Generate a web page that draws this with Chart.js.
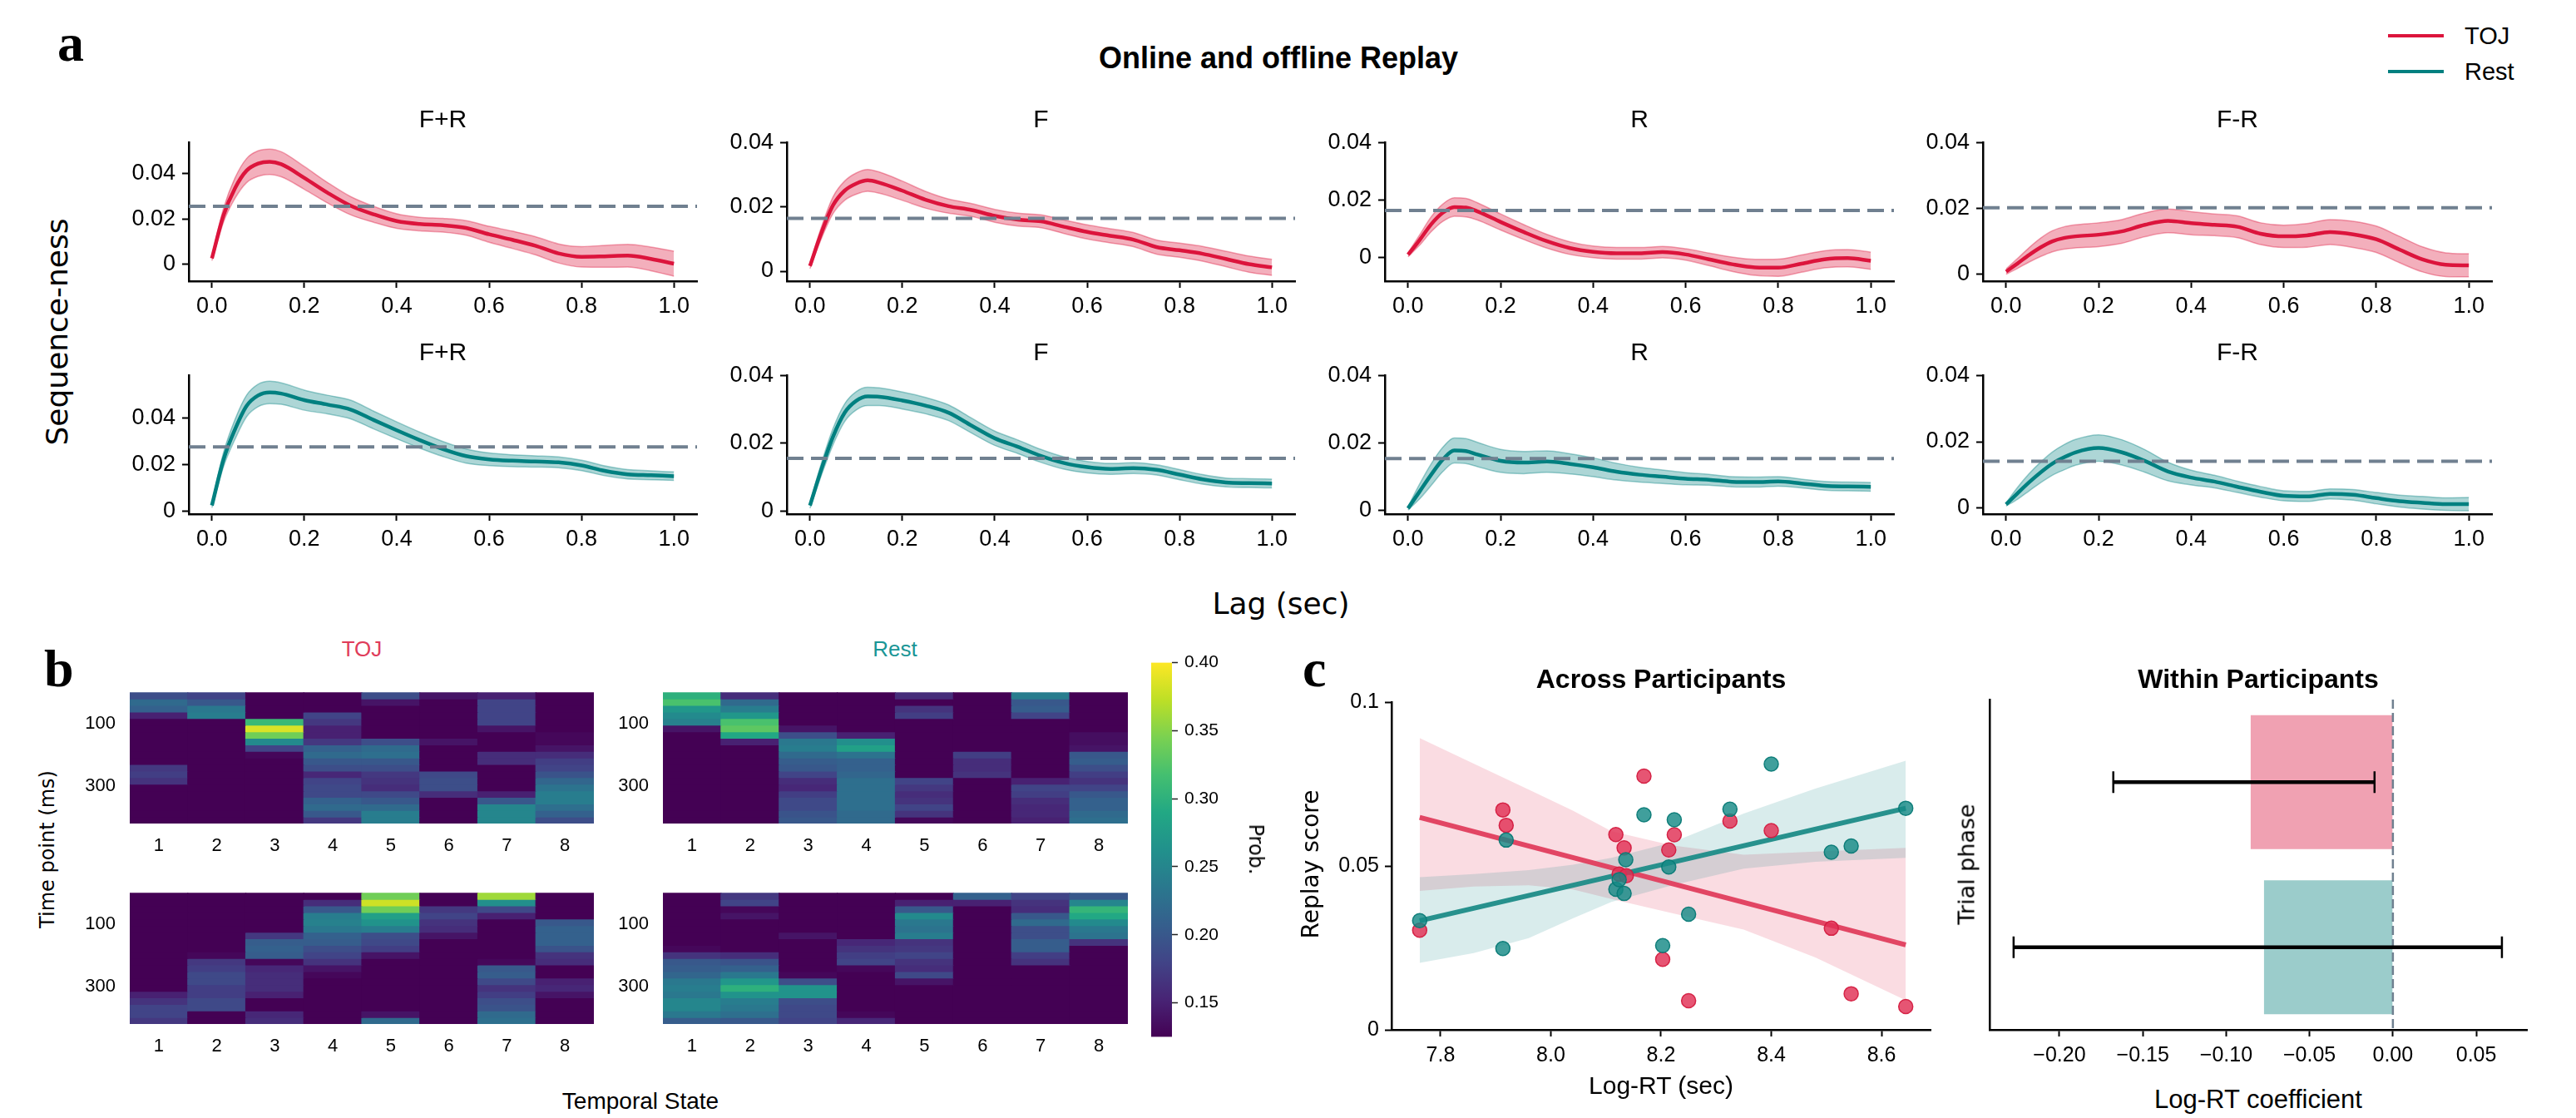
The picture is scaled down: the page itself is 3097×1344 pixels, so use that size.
<!DOCTYPE html>
<html><head><meta charset="utf-8">
<script src="https://cdn.jsdelivr.net/npm/chart.js@4.4.1/dist/chart.umd.min.js"></script>
<style>
html,body{margin:0;padding:0;background:#fff;}
#root{position:relative;width:3097px;height:1344px;overflow:hidden;background:#fff;}
canvas{position:absolute;}
.t{position:absolute;white-space:nowrap;line-height:1;color:#000;}
</style></head><body><div id="root"></div>
<script>
// ---------------- DATA ----------------
const lags = [0,0.025,0.05,0.075,0.1,0.125,0.15,0.2,0.25,0.3,0.35,0.4,0.45,0.5,0.55,0.6,0.65,0.7,0.75,0.8,0.85,0.9,0.95,1.0];
const lagTicks = [0,0.2,0.4,0.6,0.8,1.0];
const lagTickLabels = ['0.0','0.2','0.4','0.6','0.8','1.0'];
const seqTicks = [0,0.02,0.04];
const seqTickLabels = ['0','0.02','0.04'];
const panelNames = ['F+R','F','R','F-R'];

const tojFR = [0.0026,0.0215,0.0335,0.0412,0.0443,0.0451,0.0440,0.0380,0.0315,0.0258,0.0220,0.0190,0.0177,0.0172,0.0160,0.0132,0.0108,0.0082,0.0048,0.0033,0.0035,0.0038,0.0024,0.0003];
const tojFRsem = [0.0010,0.0030,0.0045,0.0053,0.0056,0.0056,0.0055,0.0050,0.0045,0.0040,0.0035,0.0032,0.0030,0.0030,0.0032,0.0035,0.0038,0.0040,0.0042,0.0045,0.0048,0.0050,0.0052,0.0055];
const tojF = [0.0016,0.0120,0.0205,0.0250,0.0272,0.0282,0.0275,0.0250,0.0222,0.0202,0.0190,0.0172,0.0160,0.0155,0.0138,0.0122,0.0110,0.0098,0.0075,0.0065,0.0054,0.0038,0.0022,0.0012];
const tojFsem = [0.0008,0.0018,0.0026,0.0030,0.0033,0.0034,0.0033,0.0030,0.0026,0.0022,0.0020,0.0020,0.0020,0.0020,0.0021,0.0022,0.0022,0.0022,0.0022,0.0022,0.0023,0.0024,0.0025,0.0025];
const tojR = [0.0009,0.0060,0.0115,0.0155,0.0175,0.0173,0.0160,0.0123,0.0088,0.0056,0.0032,0.0019,0.0014,0.0014,0.0018,0.0010,-0.0007,-0.0024,-0.0035,-0.0036,-0.0022,-0.0007,-0.0003,-0.0012];
const tojRsem = [0.0007,0.0018,0.0026,0.0030,0.0032,0.0032,0.0030,0.0028,0.0026,0.0024,0.0022,0.0020,0.0020,0.0020,0.0020,0.0020,0.0022,0.0025,0.0028,0.0030,0.0030,0.0030,0.0030,0.0030];
const tojFmR = [0.0008,0.0033,0.0059,0.0082,0.0100,0.0110,0.0115,0.0120,0.0130,0.0150,0.0162,0.0155,0.0150,0.0144,0.0123,0.0115,0.0118,0.0128,0.0121,0.0106,0.0075,0.0045,0.0029,0.0027];
const tojFmRsem = [0.0008,0.0015,0.0022,0.0028,0.0032,0.0034,0.0035,0.0036,0.0036,0.0036,0.0036,0.0035,0.0033,0.0033,0.0033,0.0034,0.0036,0.0038,0.0040,0.0040,0.0040,0.0038,0.0036,0.0035];

const restFR = [0.0025,0.0220,0.0350,0.0450,0.0495,0.0508,0.0503,0.0475,0.0456,0.0435,0.0390,0.0346,0.0304,0.0266,0.0236,0.0222,0.0216,0.0213,0.0209,0.0196,0.0173,0.0158,0.0154,0.0150];
const restFRsem = [0.0010,0.0030,0.0042,0.0046,0.0048,0.0048,0.0046,0.0043,0.0040,0.0040,0.0038,0.0036,0.0034,0.0032,0.0030,0.0027,0.0025,0.0024,0.0023,0.0022,0.0021,0.0020,0.0019,0.0018];
const restF = [0.0017,0.0125,0.0220,0.0290,0.0325,0.0338,0.0337,0.0326,0.0311,0.0290,0.0252,0.0215,0.0190,0.0163,0.0142,0.0130,0.0125,0.0127,0.0122,0.0108,0.0094,0.0085,0.0083,0.0082];
const restFsem = [0.0008,0.0018,0.0024,0.0026,0.0027,0.0027,0.0026,0.0025,0.0024,0.0023,0.0022,0.0021,0.0020,0.0019,0.0018,0.0017,0.0016,0.0016,0.0015,0.0015,0.0014,0.0013,0.0013,0.0013];
const restR = [0.0005,0.0055,0.0105,0.0150,0.0177,0.0175,0.0165,0.0146,0.0141,0.0144,0.0137,0.0127,0.0114,0.0105,0.0099,0.0093,0.0090,0.0084,0.0083,0.0085,0.0079,0.0072,0.0070,0.0069];
const restRsem = [0.0005,0.0022,0.0032,0.0036,0.0037,0.0037,0.0036,0.0034,0.0033,0.0032,0.0030,0.0028,0.0025,0.0022,0.0020,0.0018,0.0016,0.0015,0.0015,0.0014,0.0013,0.0013,0.0013,0.0013];
const restFmR = [0.0011,0.0045,0.0078,0.0108,0.0134,0.0153,0.0168,0.0181,0.0168,0.0142,0.0110,0.0092,0.0080,0.0064,0.0049,0.0037,0.0035,0.0043,0.0040,0.0030,0.0021,0.0016,0.0012,0.0012];
const restFmRsem = [0.0005,0.0018,0.0026,0.0031,0.0035,0.0038,0.0039,0.0040,0.0038,0.0034,0.0028,0.0022,0.0019,0.0017,0.0016,0.0015,0.0015,0.0015,0.0016,0.0017,0.0018,0.0019,0.0019,0.0020];

const thresholdTOJ = [0.0255,0.0164,0.0163,0.0202];
const thresholdRest = [0.0275,0.0156,0.0153,0.0141];

// heatmaps: [state][time bin]
const stateLabels = ['1','2','3','4','5','6','7','8'];
const heatTimeEdges = [0,21,42,63,84,105,126,147,168,189,210,231,252,273,294,315,336,357,378,399,420];
const timeTicks = [100,300];
const heatTOJ_A = [
 [0.19,0.22,0.21,0.15,0.12,0.12,0.12,0.12,0.12,0.12,0.12,0.17,0.175,0.165,0.12,0.12,0.12,0.12,0.12,0.12],
 [0.18,0.20,0.235,0.24,0.125,0.12,0.12,0.12,0.12,0.12,0.12,0.12,0.12,0.12,0.12,0.12,0.12,0.12,0.12,0.12],
 [0.12,0.12,0.12,0.12,0.31,0.385,0.34,0.255,0.18,0.13,0.12,0.12,0.12,0.12,0.12,0.12,0.12,0.12,0.12,0.12],
 [0.12,0.12,0.12,0.18,0.17,0.15,0.15,0.17,0.21,0.22,0.20,0.19,0.155,0.18,0.185,0.185,0.21,0.22,0.20,0.17],
 [0.19,0.14,0.12,0.12,0.12,0.12,0.12,0.19,0.22,0.225,0.20,0.19,0.17,0.165,0.16,0.185,0.20,0.22,0.24,0.24],
 [0.14,0.12,0.12,0.12,0.12,0.12,0.12,0.14,0.12,0.12,0.12,0.12,0.185,0.19,0.19,0.16,0.12,0.12,0.12,0.12],
 [0.15,0.18,0.18,0.18,0.18,0.14,0.12,0.12,0.12,0.16,0.16,0.12,0.12,0.12,0.12,0.15,0.20,0.25,0.25,0.25],
 [0.12,0.12,0.12,0.12,0.12,0.12,0.13,0.13,0.14,0.16,0.175,0.18,0.195,0.215,0.23,0.24,0.24,0.225,0.21,0.19]
];
const heatRest_A = [
 [0.30,0.32,0.27,0.255,0.245,0.14,0.12,0.12,0.12,0.12,0.12,0.12,0.12,0.12,0.12,0.12,0.12,0.12,0.12,0.12],
 [0.16,0.22,0.24,0.27,0.32,0.33,0.29,0.15,0.12,0.12,0.12,0.12,0.12,0.12,0.12,0.12,0.12,0.12,0.12,0.12],
 [0.12,0.12,0.12,0.12,0.12,0.14,0.19,0.235,0.24,0.22,0.205,0.20,0.18,0.16,0.155,0.175,0.185,0.185,0.195,0.20],
 [0.12,0.12,0.12,0.12,0.12,0.12,0.15,0.26,0.28,0.23,0.21,0.21,0.215,0.225,0.225,0.225,0.225,0.225,0.22,0.22],
 [0.16,0.12,0.165,0.175,0.12,0.12,0.12,0.12,0.12,0.12,0.12,0.12,0.12,0.18,0.17,0.16,0.165,0.18,0.165,0.13],
 [0.12,0.12,0.12,0.12,0.12,0.12,0.12,0.12,0.12,0.175,0.16,0.16,0.165,0.12,0.12,0.12,0.12,0.12,0.12,0.12],
 [0.24,0.20,0.205,0.18,0.12,0.12,0.12,0.12,0.12,0.12,0.12,0.12,0.12,0.15,0.18,0.175,0.16,0.155,0.155,0.15],
 [0.12,0.12,0.12,0.12,0.12,0.12,0.135,0.135,0.14,0.20,0.205,0.19,0.175,0.165,0.18,0.20,0.21,0.21,0.22,0.225]
];
const heatTOJ_B = [
 [0.12,0.12,0.12,0.12,0.12,0.12,0.12,0.12,0.12,0.12,0.12,0.12,0.12,0.12,0.12,0.15,0.165,0.18,0.18,0.17],
 [0.12,0.12,0.12,0.12,0.12,0.12,0.12,0.12,0.12,0.13,0.17,0.175,0.185,0.185,0.175,0.175,0.185,0.185,0.12,0.12],
 [0.12,0.12,0.12,0.12,0.12,0.12,0.17,0.205,0.21,0.205,0.13,0.155,0.16,0.16,0.16,0.15,0.12,0.12,0.155,0.16],
 [0.12,0.16,0.20,0.24,0.245,0.235,0.21,0.205,0.19,0.18,0.165,0.14,0.13,0.12,0.12,0.12,0.12,0.12,0.12,0.12],
 [0.34,0.38,0.34,0.28,0.265,0.24,0.19,0.185,0.175,0.14,0.12,0.12,0.12,0.12,0.12,0.12,0.12,0.12,0.14,0.22],
 [0.12,0.12,0.17,0.18,0.165,0.16,0.14,0.12,0.12,0.12,0.12,0.12,0.12,0.12,0.12,0.12,0.12,0.12,0.12,0.12],
 [0.36,0.26,0.185,0.15,0.12,0.12,0.12,0.12,0.12,0.12,0.13,0.20,0.205,0.185,0.165,0.175,0.19,0.195,0.22,0.225],
 [0.12,0.12,0.12,0.12,0.20,0.21,0.21,0.21,0.195,0.165,0.16,0.12,0.12,0.15,0.155,0.14,0.12,0.12,0.12,0.12]
];
const heatRest_B = [
 [0.12,0.12,0.12,0.12,0.12,0.12,0.12,0.12,0.13,0.165,0.20,0.205,0.215,0.235,0.24,0.235,0.25,0.25,0.235,0.205],
 [0.17,0.18,0.13,0.14,0.12,0.12,0.12,0.12,0.12,0.16,0.195,0.21,0.235,0.27,0.30,0.265,0.24,0.235,0.225,0.20],
 [0.12,0.12,0.12,0.12,0.12,0.12,0.14,0.12,0.12,0.12,0.12,0.12,0.13,0.19,0.265,0.265,0.19,0.185,0.185,0.18],
 [0.12,0.12,0.12,0.12,0.12,0.12,0.12,0.155,0.165,0.175,0.18,0.13,0.12,0.12,0.12,0.12,0.12,0.12,0.13,0.155],
 [0.12,0.15,0.20,0.255,0.235,0.23,0.24,0.165,0.17,0.18,0.165,0.16,0.185,0.14,0.12,0.12,0.12,0.12,0.12,0.12],
 [0.21,0.15,0.12,0.12,0.12,0.12,0.12,0.12,0.12,0.12,0.12,0.12,0.12,0.12,0.12,0.12,0.12,0.12,0.12,0.12],
 [0.18,0.165,0.16,0.20,0.22,0.19,0.19,0.205,0.205,0.175,0.165,0.12,0.12,0.12,0.12,0.12,0.12,0.12,0.12,0.12],
 [0.20,0.25,0.305,0.29,0.255,0.235,0.23,0.165,0.12,0.12,0.12,0.12,0.12,0.12,0.12,0.12,0.12,0.12,0.12,0.12]
];
const cbarRange = [0.125, 0.40];
const cbarTicks = [0.15,0.20,0.25,0.30,0.35,0.40];
const cbarTickLabels = ['0.15','0.20','0.25','0.30','0.35','0.40'];

// across participants
const acrossRT_TOJ = [7.762,7.913,7.919,8.118,8.133,8.169,8.224,8.214,8.124,8.137,8.325,8.400,8.203,8.250,8.509,8.545,8.644];
const acrossScore_TOJ = [0.0304,0.0671,0.0624,0.0596,0.0555,0.0774,0.0595,0.0549,0.0475,0.0470,0.0637,0.0608,0.0215,0.0089,0.0310,0.0110,0.0071];
const acrossRT_Rest = [7.762,7.913,7.919,8.169,8.224,8.325,8.400,8.136,8.118,8.133,8.124,8.214,8.250,8.203,8.509,8.545,8.644];
const acrossScore_Rest = [0.0333,0.0248,0.0579,0.0656,0.0641,0.0673,0.0811,0.0519,0.0429,0.0416,0.0458,0.0497,0.0353,0.0257,0.0542,0.0561,0.0676];
const fitRT = [7.762, 8.644];
const fitTOJ = [0.0648, 0.0259];
const fitRest = [0.0333, 0.0676];
const bandRT = [7.762,7.86,7.96,8.04,8.11,8.22,8.35,8.48,8.644];
const bandTOJ_hi = [0.0890,0.0812,0.0733,0.0669,0.0606,0.0563,0.0534,0.0544,0.0555];
const bandTOJ_lo = [0.0424,0.0437,0.0441,0.0428,0.0399,0.0356,0.0306,0.0221,0.0090];
const bandRest_hi = [0.0466,0.0475,0.0487,0.0504,0.0525,0.0572,0.0660,0.0736,0.0821];
const bandRest_lo = [0.0204,0.0234,0.0280,0.0340,0.0390,0.0441,0.0492,0.0513,0.0525];
const rtTicks = [7.8,8.0,8.2,8.4,8.6];
const rtTickLabels = ['7.8','8.0','8.2','8.4','8.6'];
const scoreTicks = [0,0.05,0.1];
const scoreTickLabels = ['0','0.05','0.1'];

// within participants
const phases = ['TOJ','Rest'];
const withinCoef = [-0.0853,-0.0773];
const withinLo = [-0.1677,-0.2275];
const withinHi = [-0.0110,0.0654];
const coefTicks = [-0.20,-0.15,-0.10,-0.05,0,0.05];
const coefTickLabels = ['\u22120.20','\u22120.15','\u22120.10','\u22120.05','0.00','0.05'];

// ---------------- STYLE / HELPERS ----------------
const C_TOJ = '#dc143c', C_REST = '#008080', C_THR = '#708090';
const viridisStops = ['#440154','#482475','#414487','#355f8d','#2a788e','#21918c','#22a884','#44bf70','#7ad151','#bddf26','#fde725'];
function hex2rgb(h){return [parseInt(h.slice(1,3),16),parseInt(h.slice(3,5),16),parseInt(h.slice(5,7),16)];}
const vRGB = viridisStops.map(hex2rgb);
function viridis(v){
  let t = (v - cbarRange[0])/(cbarRange[1]-cbarRange[0]);
  t = Math.max(0, Math.min(1, t));
  const p = t*(vRGB.length-1); const i = Math.min(Math.floor(p), vRGB.length-2); const f = p - i;
  const a = vRGB[i], b = vRGB[i+1];
  return 'rgb(' + [0,1,2].map(k=>Math.round(a[k]+(b[k]-a[k])*f)).join(',') + ')';
}
Chart.defaults.font.family = 'Liberation Sans';
Chart.defaults.color = '#000';
const root = document.getElementById('root');
function txt(s, x, y, o){
  const d = document.createElement('div'); d.className='t'; d.textContent = s;
  d.style.fontFamily = o.family || 'Liberation Sans';
  d.style.fontSize = o.size + 'px';
  d.style.fontWeight = o.weight || 'normal';
  d.style.color = o.color || '#000';
  d.style.left = x + 'px'; d.style.top = y + 'px';
  if (o.tl) { root.appendChild(d); return; }
  const ax = o.anchor === 'left' ? '0' : '-50%';
  d.style.transform = 'translate(' + ax + ',-50%)' + (o.rot ? ' rotate(' + o.rot + 'deg)' : '');
  root.appendChild(d);
}
function box(x,y,w,h,color){const d=document.createElement('div');d.style.cssText='position:absolute;left:'+x+'px;top:'+y+'px;width:'+w+'px;height:'+h+'px;background:'+color;root.appendChild(d);}
function place(rect, m){
  const c = document.createElement('canvas');
  const W = Math.round(rect.w + m.l + m.r), H = Math.round(rect.h + m.t + m.b);
  c.width = W; c.height = H;
  c.style.left = (rect.x - m.l) + 'px'; c.style.top = (rect.y - m.t) + 'px';
  c.style.width = W + 'px'; c.style.height = H + 'px';
  root.appendChild(c); return c;
}
function base(pad){
  return {responsive:false, animation:false, devicePixelRatio:1, events:[],
    layout:{padding:pad}, plugins:{legend:{display:false}, tooltip:{enabled:false}}};
}
function fixedTicks(vals){ return s => { s.ticks = vals.map(v=>({value:v})); }; }
const axGrid = {drawOnChartArea:false, drawTicks:true, tickLength:8, tickWidth:2, tickColor:'#000', color:'#000'};
const axBorder = {display:true, color:'#000', width:2.5};

// ---------------- PANEL a ----------------
const colX = [227, 946, 1665, 2384], colW = [611, 611, 612, 612];
const rowY = [167, 447], rowH = 171;
const yLimTOJ = [[-0.0074,0.0536],[-0.0031,0.04],[-0.0083,0.04],[-0.0021,0.04]];
const yLimRest = [[-0.0012,0.0581],[-0.0008,0.04],[-0.0012,0.04],[-0.0018,0.04]];
const lagLim = [-0.05, 1.05];
const seqRows = [
  {means:[tojFR,tojF,tojR,tojFmR], sems:[tojFRsem,tojFsem,tojRsem,tojFmRsem], thr:thresholdTOJ, lim:yLimTOJ, color:C_TOJ, band:'rgba(220,20,60,0.34)', edge:'rgba(220,20,60,0.38)'},
  {means:[restFR,restF,restR,restFmR], sems:[restFRsem,restFsem,restRsem,restFmRsem], thr:thresholdRest, lim:yLimRest, color:C_REST, band:'rgba(0,128,128,0.32)', edge:'rgba(0,128,128,0.38)'}
];
seqRows.forEach((row, ri) => {
  for (let p = 0; p < 4; p++) {
    const rect = {x: colX[p], y: rowY[ri], w: colW[p], h: rowH};
    const m = {l:110, t:20, r:30, b:60};
    const c = place(rect, m);
    const mean = row.means[p], sem = row.sems[p];
    const mk = f => lags.map((x,i)=>({x, y: f(i)}));
    new Chart(c, {type:'line', data:{datasets:[
      {data:[{x:lagLim[0],y:row.thr[p]},{x:lagLim[1],y:row.thr[p]}], borderColor:C_THR, borderWidth:4, borderDash:[20,9], pointRadius:0, fill:false},
      {data:mk(i=>mean[i]), borderColor:row.color, borderWidth:4.5, pointRadius:0, cubicInterpolationMode:'monotone', fill:false},
      {data:mk(i=>mean[i]+sem[i]), borderColor:row.edge, borderWidth:1.5, pointRadius:0, cubicInterpolationMode:'monotone', fill:3, backgroundColor:row.band},
      {data:mk(i=>mean[i]-sem[i]), borderColor:row.edge, borderWidth:1.5, pointRadius:0, cubicInterpolationMode:'monotone', fill:false}
    ]}, options: Object.assign(base({left:0, top:m.t, right:m.r, bottom:0}), {
      scales:{
        x:{type:'linear', min:lagLim[0], max:lagLim[1], afterBuildTicks:fixedTicks(lagTicks), afterFit:s=>{s.height=m.b;},
           ticks:{font:{size:27}, padding:6, autoSkip:false, maxRotation:0, callback:(v,i)=>lagTickLabels[i]}, grid:axGrid, border:axBorder},
        y:{type:'linear', min:row.lim[p][0], max:row.lim[p][1], afterBuildTicks:fixedTicks(seqTicks), afterFit:s=>{s.width=m.l;},
           ticks:{font:{size:27}, padding:8, autoSkip:false, callback:(v,i)=>seqTickLabels[i]}, grid:axGrid, border:axBorder}
      }})});
    txt(panelNames[p], rect.x + rect.w/2, ri === 0 ? 143 : 423, {size:30});
  }
});
txt('Online and offline Replay', 1537, 70, {size:36, weight:'bold'});
txt('Sequence-ness', 69, 399, {family:'DejaVu Sans', size:36, rot:-90});
txt('Lag (sec)', 1540, 726, {family:'DejaVu Sans', size:36});
box(2871, 41, 67, 4, C_TOJ); box(2871, 84, 67, 4, C_REST);
txt('TOJ', 2963, 43, {size:29, anchor:'left'});
txt('Rest', 2963, 86, {size:29, anchor:'left'});
txt('a', 69, 20, {family:'Liberation Serif', size:64, weight:'bold', tl:true});

// ---------------- PANEL b ----------------
function heatmap(rect, matrix){
  const m = {l:80, t:10, r:10, b:45};
  const c = place(rect, m);
  const datasets = [];
  for (let r = 0; r < heatTimeEdges.length - 1; r++) {
    datasets.push({data: stateLabels.map(()=>[heatTimeEdges[r], heatTimeEdges[r+1]]),
      backgroundColor: matrix.map(col=>viridis(col[r])), borderWidth:0, borderSkipped:false,
      barPercentage:1, categoryPercentage:1, grouped:false, inflateAmount:0.6});
  }
  new Chart(c, {type:'bar', data:{labels:stateLabels, datasets}, options: Object.assign(base({left:0, top:m.t, right:m.r, bottom:0}), {
    scales:{
      x:{type:'category', afterFit:s=>{s.height=m.b;}, grid:{display:false, drawTicks:false}, border:{display:false}, ticks:{font:{size:22}, padding:14}},
      y:{type:'linear', reverse:true, min:heatTimeEdges[0], max:heatTimeEdges[heatTimeEdges.length-1], afterBuildTicks:fixedTicks(timeTicks), afterFit:s=>{s.width=m.l;},
         grid:{display:false, drawTicks:false}, border:{display:false}, ticks:{font:{size:22}, padding:17, autoSkip:false}}
    }})});
}
heatmap({x:156, y:812, w:558, h:178}, heatTOJ_A);
heatmap({x:797, y:812, w:559, h:178}, heatRest_A);
heatmap({x:156, y:1053, w:558, h:178}, heatTOJ_B);
heatmap({x:797, y:1053, w:559, h:178}, heatRest_B);
(function(){
  const rect = {x:1384, y:796, w:25, h:451}; const m = {l:2, t:20, r:90, b:20};
  const c = place(rect, m);
  new Chart(c, {type:'bar', data:{labels:[''], datasets:[{data:[[cbarRange[0], cbarRange[1]]], borderWidth:0, barPercentage:1, categoryPercentage:1,
    backgroundColor: ctx => { const ca = ctx.chart.chartArea; if (!ca) return viridisStops[0];
      const g = ctx.chart.ctx.createLinearGradient(0, ca.bottom, 0, ca.top);
      viridisStops.forEach((s,i)=>g.addColorStop(i/(viridisStops.length-1), s)); return g; }}]},
    options: Object.assign(base({left:m.l, top:m.t, right:0, bottom:m.b}), {scales:{
      x:{display:false},
      y:{position:'right', min:cbarRange[0], max:cbarRange[1], afterBuildTicks:fixedTicks(cbarTicks), afterFit:s=>{s.width=m.r;},
         grid:{drawOnChartArea:false, drawTicks:true, tickLength:7, tickWidth:1.5, tickColor:'#222'}, border:{display:false},
         ticks:{font:{size:21}, padding:8, autoSkip:false, callback:(v,i)=>cbarTickLabels[i]}}
    }})});
})();
txt('TOJ', 435, 780, {size:26, color:'#e03c5a'});
txt('Rest', 1076, 780, {size:26, color:'#1a9696'});
txt('Time point (ms)', 57, 1021, {family:'DejaVu Sans', size:24, rot:-90});
txt('Temporal State', 770, 1324, {size:28});
txt('Prob.', 1510, 1021, {family:'DejaVu Sans', size:24, rot:90});
txt('b', 53, 772, {family:'Liberation Serif', size:64, weight:'bold', tl:true});

// ---------------- PANEL c: across ----------------
(function(){
  const rect = {x:1673, y:842, w:648, h:396}; const m = {l:100, t:20, r:30, b:60};
  const c = place(rect, m);
  const pts = (xs, ys) => xs.map((x,i)=>({x, y:ys[i]}));
  new Chart(c, {type:'line', data:{datasets:[
    {data:pts(acrossRT_Rest, acrossScore_Rest), showLine:false, pointRadius:8.5, pointBorderWidth:1.5, pointBackgroundColor:'rgba(22,138,134,0.82)', pointBorderColor:'rgba(8,122,118,0.95)'},
    {data:pts(acrossRT_TOJ, acrossScore_TOJ), showLine:false, pointRadius:8.5, pointBorderWidth:1.5, pointBackgroundColor:'rgba(224,48,84,0.82)', pointBorderColor:'rgba(212,28,64,0.95)'},
    {data:pts(fitRT, fitRest), borderColor:'rgba(30,140,136,0.95)', borderWidth:6, pointRadius:0, fill:false},
    {data:pts(fitRT, fitTOJ), borderColor:'rgba(226,62,94,0.95)', borderWidth:6, pointRadius:0, fill:false},
    {data:pts(bandRT, bandRest_hi), borderWidth:0, pointRadius:0, fill:5, backgroundColor:'rgba(0,128,128,0.15)'},
    {data:pts(bandRT, bandRest_lo), borderWidth:0, pointRadius:0, fill:false},
    {data:pts(bandRT, bandTOJ_hi), borderWidth:0, pointRadius:0, fill:7, backgroundColor:'rgba(220,20,60,0.15)'},
    {data:pts(bandRT, bandTOJ_lo), borderWidth:0, pointRadius:0, fill:false}
  ]}, options: Object.assign(base({left:0, top:m.t, right:m.r, bottom:0}), {scales:{
    x:{type:'linear', min:7.711, max:8.689, afterBuildTicks:fixedTicks(rtTicks), afterFit:s=>{s.height=m.b;},
       ticks:{font:{size:25}, padding:8, autoSkip:false, maxRotation:0, callback:(v,i)=>rtTickLabels[i]}, grid:axGrid, border:axBorder},
    y:{type:'linear', min:0, max:0.1, afterBuildTicks:fixedTicks(scoreTicks), afterFit:s=>{s.width=m.l;},
       ticks:{font:{size:25}, padding:7, autoSkip:false, callback:(v,i)=>scoreTickLabels[i]}, grid:axGrid, border:axBorder}
  }})});
})();
txt('Across Participants', 1997, 816, {size:32, weight:'bold'});
txt('Log-RT (sec)', 1997, 1305, {size:30});
txt('Replay score', 1576, 1039, {family:'DejaVu Sans', size:28, rot:-90});
txt('c', 1566, 772, {family:'Liberation Serif', size:64, weight:'bold', tl:true});

// ---------------- PANEL c: within ----------------
(function(){
  const rect = {x:2392, y:841, w:646, h:397}; const m = {l:30, t:20, r:40, b:60};
  const c = place(rect, m);
  const errPlugin = {id:'errbars', afterDatasetsDraw(chart){
    const {ctx, chartArea:ca, scales:{x, y}} = chart;
    ctx.save();
    ctx.strokeStyle = C_THR; ctx.lineWidth = 2.5; ctx.setLineDash([11,5]);
    const x0 = x.getPixelForValue(0);
    ctx.beginPath(); ctx.moveTo(x0, ca.top); ctx.lineTo(x0, ca.bottom); ctx.stroke();
    ctx.setLineDash([]); ctx.strokeStyle = '#000';
    withinLo.forEach((lo, i) => {
      const yc = y.getPixelForValue(i), xl = x.getPixelForValue(lo), xr = x.getPixelForValue(withinHi[i]);
      ctx.lineWidth = 4.5; ctx.beginPath(); ctx.moveTo(xl, yc); ctx.lineTo(xr, yc); ctx.stroke();
      ctx.lineWidth = 2.5; ctx.beginPath(); ctx.moveTo(xl, yc-13); ctx.lineTo(xl, yc+13); ctx.moveTo(xr, yc-13); ctx.lineTo(xr, yc+13); ctx.stroke();
    });
    ctx.restore();
  }};
  new Chart(c, {type:'bar', plugins:[errPlugin], data:{labels:phases, datasets:[
    {data:withinCoef, backgroundColor:['#f0a1b2','#9bcccb'], borderWidth:0, barPercentage:0.81, categoryPercentage:1}
  ]}, options: Object.assign(base({left:0, top:m.t, right:m.r, bottom:0}), {indexAxis:'y', scales:{
    x:{type:'linear', min:-0.2419, max:0.0804, afterBuildTicks:fixedTicks(coefTicks), afterFit:s=>{s.height=m.b;},
       ticks:{font:{size:25}, padding:8, autoSkip:false, maxRotation:0, callback:(v,i)=>coefTickLabels[i]}, grid:axGrid, border:axBorder},
    y:{type:'category', afterFit:s=>{s.width=m.l;}, ticks:{display:false}, grid:{display:false, drawTicks:false}, border:axBorder}
  }})});
})();
txt('Within Participants', 2715, 816, {size:32, weight:'bold'});
txt('Log-RT coefficient', 2715, 1321, {size:31});
txt('Trial phase', 2364, 1039, {family:'DejaVu Sans', size:27, rot:-90});
</script></body></html>
